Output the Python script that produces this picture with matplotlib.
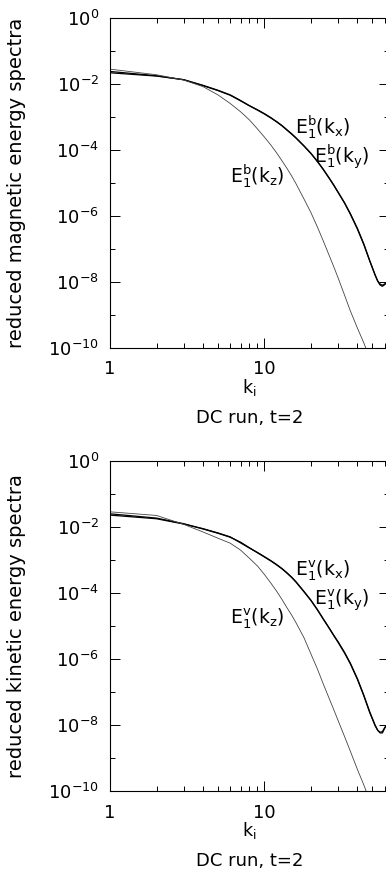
import numpy as np
import matplotlib
matplotlib.use("Agg")
import matplotlib.pyplot as plt
from matplotlib.ticker import FixedLocator, NullFormatter

plt.rcParams['font.family'] = ['DejaVu Sans']
plt.rcParams['mathtext.fontset'] = 'custom'
plt.rcParams['mathtext.rm'] = 'DejaVu Sans'
plt.rcParams['mathtext.it'] = 'DejaVu Sans'

# wavenumbers at which the reduced spectra are sampled
k_xy = [1, 2, 3, 4, 5, 6, 7, 8, 9, 10, 11, 12, 13, 14, 15, 16, 18, 20, 22, 24, 26, 28, 30,
        33, 36, 40, 44, 48, 52, 54, 56, 58, 60, 62, 64]
k_z = [1, 2, 3, 4, 5, 6, 7, 8, 9, 10, 11, 12, 13, 14, 15, 16, 18, 20, 22, 24, 26, 28, 30,
       33, 36, 40, 44, 48]

# log10 of the reduced magnetic energy spectra (DC run, t=2)
log_mag_kx = [-1.66, -1.76, -1.87, -2.04, -2.19, -2.33, -2.50, -2.66, -2.78, -2.90, -3.02,
              -3.14, -3.26, -3.39, -3.51, -3.63, -3.87, -4.10, -4.34, -4.58, -4.82, -5.05,
              -5.28, -5.60, -5.93, -6.38, -6.85, -7.35, -7.78, -7.97, -8.09, -8.13, -8.08,
              -8.02, -7.97]
log_mag_ky = [-1.62, -1.75, -1.87, -2.05, -2.20, -2.34, -2.51, -2.66, -2.79, -2.91, -3.03,
              -3.15, -3.27, -3.40, -3.52, -3.64, -3.88, -4.11, -4.35, -4.59, -4.83, -5.06,
              -5.29, -5.61, -5.95, -6.40, -6.87, -7.36, -7.79, -7.96, -8.06, -8.10, -8.06,
              -8.00, -7.95]
log_mag_kz = [-1.55, -1.72, -1.88, -2.08, -2.33, -2.59, -2.84, -3.09, -3.36, -3.61, -3.85,
              -4.09, -4.33, -4.56, -4.79, -5.02, -5.48, -5.90, -6.33, -6.75, -7.15, -7.52,
              -7.88, -8.40, -8.88, -9.40, -9.85, -10.30]

# log10 of the reduced kinetic energy spectra (DC run, t=2)
log_kin_kx = [-1.64, -1.75, -1.91, -2.05, -2.18, -2.30, -2.48, -2.64, -2.77, -2.90, -3.02,
              -3.14, -3.26, -3.39, -3.52, -3.66, -3.95, -4.22, -4.50, -4.78, -5.03, -5.27,
              -5.48, -5.80, -6.13, -6.60, -7.10, -7.60, -8.00, -8.15, -8.24, -8.24, -8.10,
              -8.00, -7.95]
log_kin_ky = [-1.60, -1.73, -1.90, -2.06, -2.19, -2.31, -2.46, -2.63, -2.78, -2.91, -3.03,
              -3.15, -3.27, -3.40, -3.53, -3.67, -3.96, -4.23, -4.51, -4.79, -5.04, -5.28,
              -5.50, -5.82, -6.15, -6.62, -7.12, -7.62, -8.02, -8.16, -8.22, -8.20, -8.08,
              -7.99, -7.94]
log_kin_kz = [-1.54, -1.65, -1.92, -2.15, -2.34, -2.49, -2.70, -2.95, -3.18, -3.44, -3.70,
              -3.95, -4.20, -4.45, -4.67, -4.90, -5.35, -5.85, -6.30, -6.75, -7.15, -7.52,
              -7.87, -8.35, -8.80, -9.35, -9.82, -10.30]

ytick_major = [1e0, 1e-2, 1e-4, 1e-6, 1e-8, 1e-10]
ytick_labels = [r'$10^{0}$', r'$10^{-2}$', r'$10^{-4}$', r'$10^{-6}$', r'$10^{-8}$', r'$10^{-10}$']
ytick_minor = [1e-1, 1e-3, 1e-5, 1e-7, 1e-9]
xtick_major = [1, 10]
xtick_labels = ['1', '10']
xtick_minor = [2, 3, 4, 5, 6, 7, 8, 9, 20, 30, 40, 50, 60]

W, H = 386, 873
fig = plt.figure(figsize=(W / 100, H / 100), dpi=100)


def panel(top_px, log_x, log_y, log_z, sup, ylabel):
    left, right = 110, 389
    ax = fig.add_axes([left / W, 1 - (top_px + 330) / H, (right - left) / W, 330 / H])
    ax.plot(k_xy, 10.0 ** np.asarray(log_x), color='black', lw=0.9)
    ax.plot(k_xy, 10.0 ** np.asarray(log_y), color='black', lw=0.9)
    ax.plot(k_z, 10.0 ** np.asarray(log_z), color='#444444', lw=0.6)
    ax.set_xscale('log')
    ax.set_yscale('log')
    ax.set_xlim(1, 64)
    ax.set_ylim(1e-10, 1)
    ax.yaxis.set_major_locator(FixedLocator(ytick_major))
    ax.set_yticklabels(ytick_labels)
    ax.yaxis.set_minor_locator(FixedLocator(ytick_minor))
    ax.yaxis.set_minor_formatter(NullFormatter())
    ax.xaxis.set_major_locator(FixedLocator(xtick_major))
    ax.set_xticklabels(xtick_labels)
    ax.xaxis.set_minor_locator(FixedLocator(xtick_minor))
    ax.xaxis.set_minor_formatter(NullFormatter())
    ax.tick_params(which='both', direction='in', top=True, right=True,
                   width=0.7, labelsize=13)
    ax.tick_params(which='major', length=7)
    ax.tick_params(which='minor', length=3.5)
    ax.tick_params(axis='x', which='major', pad=9)
    ax.tick_params(axis='y', which='major', pad=8)
    for s in ax.spines.values():
        s.set_linewidth(0.8)
    ax.set_ylabel(ylabel, fontsize=14)
    ax.yaxis.set_label_coords(-0.3, 0.5)
    ax.text(0.5, -0.12, r'$\mathrm{k_i}$', transform=ax.transAxes,
            ha='center', va='center', fontsize=12.5)
    ax.text(0.5, -0.213, 'DC run, t=2', transform=ax.transAxes,
            ha='center', va='center', fontsize=13)
    ax.text(0.662, 0.668, r'$\mathrm{E_1^{%s}(k_x)}$' % sup, transform=ax.transAxes,
            ha='left', va='center', fontsize=13.5)
    ax.text(0.73, 0.58, r'$\mathrm{E_1^{%s}(k_y)}$' % sup, transform=ax.transAxes,
            ha='left', va='center', fontsize=13.5)
    ax.text(0.43, 0.522, r'$\mathrm{E_1^{%s}(k_z)}$' % sup, transform=ax.transAxes,
            ha='left', va='center', fontsize=13.5)
    return ax


panel(18, log_mag_kx, log_mag_ky, log_mag_kz, 'b', 'reduced magnetic energy spectra')
panel(461, log_kin_kx, log_kin_ky, log_kin_kz, 'v', 'reduced kinetic energy spectra')

fig.savefig('out.png', dpi=100)
